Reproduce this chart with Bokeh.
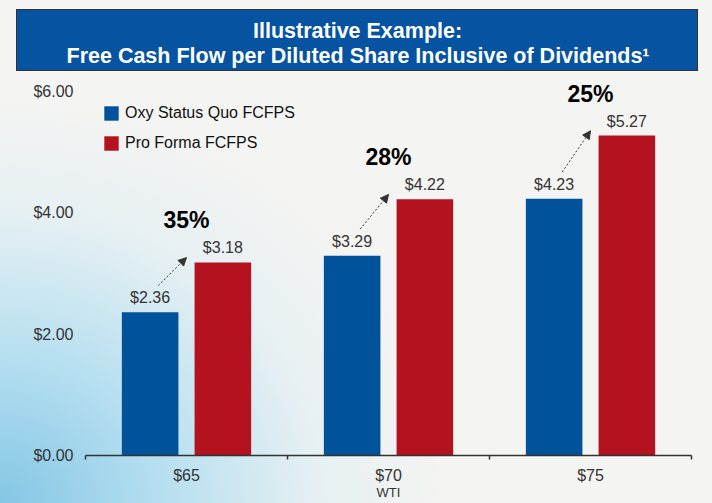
from bokeh.plotting import figure
from bokeh.models import (ColumnDataSource, FixedTicker, NumeralTickFormatter, Title,
                          Legend, LegendItem, Arrow, NormalHead, LabelSet)
from bokeh.core.properties import value
from bokeh.embed import file_html
from bokeh.resources import INLINE

# ---- data ----
categories = ["$65", "$70", "$75"]
status_quo = [2.36, 3.29, 4.23]
pro_forma = [3.18, 4.22, 5.27]
uplift = ["35%", "28%", "25%"]
y_ticks = [0, 2, 4, 6]
series_names = ["Oxy Status Quo FCFPS", "Pro Forma FCFPS"]
x_title = "WTI"
title_line1 = "Illustrative Example:"
title_line2 = "Free Cash Flow per Diluted Share Inclusive of Dividends\u00b9"

# ---- style ----
BLUE = "#00529B"
RED = "#B3121E"
TITLE_BG = "#0553A1"
FONT = "Liberation Sans"
DODGE = 0.18
BW = 0.28
Y_HEADROOM = 0.26

centers = [i + 0.5 for i in range(len(categories))]
x_blue = [c - DODGE for c in centers]
x_red = [c + DODGE for c in centers]

src = ColumnDataSource(dict(
    cx=centers, xb=x_blue, xr=x_red, sq=status_quo, pf=pro_forma,
    sq_lbl=[f"${v:.2f}" for v in status_quo],
    pf_lbl=[f"${v:.2f}" for v in pro_forma],
    pct=uplift,
    ax0=[x + 0.04 for x in x_blue], ay0=[v + 0.44 for v in status_quo],
    ax1=[x - 0.18 for x in x_red], ay1=[v + 0.08 for v in pro_forma],
))

p = figure(width=712, height=503, x_range=(0, len(categories)),
           y_range=(y_ticks[0], y_ticks[-1] + Y_HEADROOM), title=None,
           output_backend="svg", toolbar_location=None,
           min_border_left=85, min_border_right=21, min_border_top=75, min_border_bottom=48)
p.styles = {"background": (
    f"linear-gradient({TITLE_BG},{TITLE_BG}) 17px 10px / 680px 60px no-repeat, "
    "linear-gradient(#333333,#333333) 16px 9px / 682px 62px no-repeat, "
    "radial-gradient(ellipse 62% 80% at 0% 100%, #84c6e5 0%, #b4def0 35%, #e6f0f3 72%, #f4f4f2 100%)")}
p.border_fill_alpha = 0
p.background_fill_alpha = 0
p.outline_line_color = None
p.grid.visible = False

rb = p.vbar(x="xb", top="sq", width=BW, source=src, fill_color=BLUE, line_color=None)
rr = p.vbar(x="xr", top="pf", width=BW, source=src, fill_color=RED, line_color=None)

# x axis
xa = p.xaxis[0]
xa.ticker = FixedTicker(ticks=centers, minor_ticks=list(range(len(categories) + 1)))
xa.major_label_overrides = {c: lab for c, lab in zip(centers, categories)}
xa.major_tick_line_color = None
xa.major_tick_out = 4
xa.major_tick_in = 0
xa.minor_tick_out = 4
xa.minor_tick_in = 0
xa.minor_tick_line_color = "#333333"
xa.minor_tick_line_width = 1.5
xa.axis_line_color = "#333333"
xa.axis_line_width = 1.5
xa.major_label_standoff = 7
xa.major_label_text_font = FONT
xa.major_label_text_font_size = "16px"
xa.major_label_text_color = "#333333"
xa.axis_label = x_title
xa.axis_label_standoff = -2
xa.axis_label_text_font = FONT
xa.axis_label_text_font_size = "13px"
xa.axis_label_text_font_style = "normal"
xa.axis_label_text_color = "#333333"

# y axis
ya = p.yaxis[0]
ya.ticker = FixedTicker(ticks=y_ticks)
ya.formatter = NumeralTickFormatter(format="$0.00")
ya.axis_line_color = None
ya.major_tick_line_color = None
ya.minor_tick_line_color = None
ya.major_tick_out = 0
ya.major_tick_in = 0
ya.major_label_standoff = 12
ya.major_label_text_font = FONT
ya.major_label_text_font_size = "16px"
ya.major_label_text_color = "#333333"

# value labels
for xcol, ycol, tcol in (("xb", "sq", "sq_lbl"), ("xr", "pf", "pf_lbl")):
    p.add_layout(LabelSet(x=xcol, y=ycol, text=tcol, source=src, text_align="center",
                          text_baseline="bottom", y_offset=6, text_font=value(FONT),
                          text_font_size="16px", text_color="#333333"))

# percent labels
p.add_layout(LabelSet(x="cx", y="pf", text="pct", source=src, text_align="center",
                      text_baseline="bottom", y_offset=29, text_font=value(FONT),
                      text_font_size="23px", text_font_style="bold", text_color="#000000"))

# arrows
p.add_layout(Arrow(end=NormalHead(size=8, fill_color="#333333", line_color="#333333"),
                   x_start="ax0", y_start="ay0", x_end="ax1", y_end="ay1", source=src,
                   line_dash="2 2", line_color="#333333", line_width=1))

# legend
legend = Legend(items=[LegendItem(label=series_names[0], renderers=[rb]),
                       LegendItem(label=series_names[1], renderers=[rr])],
                location=(17, 303), glyph_width=18, glyph_height=18, label_standoff=5,
                spacing=12, padding=0, margin=0, border_line_alpha=0, background_fill_alpha=0,
                label_text_font=FONT, label_text_font_size="16px", label_text_color="#111111")
p.add_layout(legend)

# title (two lines, the box is drawn as the figure's CSS background)
p.add_layout(Title(text=title_line2, align="left", offset=-19, standoff=15,
                   text_color="white", text_font=FONT, text_font_style="bold",
                   text_font_size="21.5px"), "above")
p.add_layout(Title(text=title_line1, align="left", offset=167.5, standoff=-17,
                   text_color="white", text_font=FONT, text_font_style="bold",
                   text_font_size="21.5px"), "above")

open("out.html", "w").write(file_html(p, INLINE))
